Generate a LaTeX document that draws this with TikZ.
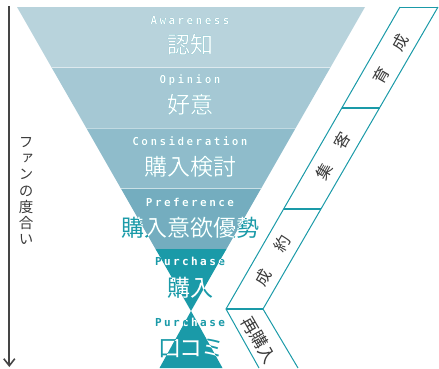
\documentclass[tikz,border=0pt]{standalone}
\usepackage{fontspec}
\setmainfont{DejaVu Sans}
\newfontfamily\jp[RawFeature=+palt]{Noto Sans CJK JP}
\newfontfamily\jpv[RawFeature=+vert]{Noto Sans CJK JP}
\newfontfamily\en[LetterSpace=22]{DejaVu Sans Mono}
\usetikzlibrary{arrows.meta}
\definecolor{cA}{HTML}{B8D3DC}
\definecolor{cB}{HTML}{A5C8D4}
\definecolor{cC}{HTML}{8FBCCB}
\definecolor{cD}{HTML}{74ADBF}
\definecolor{tealc}{HTML}{1A9AA8}
\definecolor{inkc}{HTML}{3A3A3A}
\definecolor{axisc}{HTML}{454545}
\tikzset{
  sepline/.style={draw=white, draw opacity=0.45, line width=0.8pt},
  bandline/.style={draw=tealc, line width=1pt, line join=miter},
  divline/.style={draw=tealc, line width=1.8pt},
  axisarrow/.style={draw=axisc, line width=1.8pt, -{Straight Barb[length=7pt,width=11pt,line width=1.6pt]}},
  enlab/.style={inner sep=0pt, font=\en\bfseries\fontsize{11}{12}\selectfont},
  jplab/.style={inner sep=0pt, font=\jp\fontsize{23}{24}\selectfont},
  seglab/.style={inner sep=0pt, text=inkc, font=\jp\fontsize{16}{17}\selectfont},
}
\newcommand\funnellabels[2]{%
  \node[enlab,text=#1] (#2en1) at (190,20.5) {Awareness};
  \node[jplab,text=#1] (#2jp1) at (190,45) {認知};
  \node[enlab,text=#1] (#2en2) at (190,80.5) {Opinion};
  \node[jplab,text=#1] (#2jp2) at (190,105) {好意};
  \node[enlab,text=#1] (#2en3) at (190,141.5) {Consideration};
  \node[jplab,text=#1] (#2jp3) at (190,167) {購入検討};
  \node[enlab,text=#1] (#2en4) at (190,202.5) {Preference};
  \node[jplab,text=#1] (#2jp4) at (190,228) {購入意欲優勢};
  \node[enlab,text=#1] (#2en5) at (190,261.5) {Purchase};
  \node[jplab,text=#1] (#2jp5) at (190,288) {購入};
  \node[enlab,text=#1] (#2en6) at (190,322.5) {Purchase};
  \node[jplab,text=#1] (#2jp6) at (190,348) {口コミ};
}
\begin{document}
\begin{tikzpicture}[x=1pt,y=-1pt]
\useasboundingbox (0,0) rectangle (439,368);
% funnel bands
\fill[cA] (17,7) -- (365,7) -- (330.4,67.5) -- (51.6,67.5) -- cycle;
\fill[cB] (51.6,67.5) -- (330.4,67.5) -- (295.7,128) -- (86.3,128) -- cycle;
\fill[cC] (86.3,128) -- (295.7,128) -- (261.1,188.5) -- (120.9,188.5) -- cycle;
\fill[cD] (120.9,188.5) -- (261.1,188.5) -- (226.5,249) -- (155.5,249) -- cycle;
\fill[tealc] (155.5,249) -- (226.5,249) -- (191,311) -- cycle;
\fill[tealc] (191,311) -- (222.5,368) -- (159.5,368) -- cycle;
\draw[sepline] (51.6,67.5) -- (330.4,67.5);
\draw[sepline] (86.3,128) -- (295.7,128);
\draw[sepline] (120.9,188.5) -- (261.1,188.5);
% labels: teal outside the funnel, white inside
\funnellabels{tealc}{t}
\begin{scope}
  \clip (17,7) -- (365,7) -- (191,311) -- cycle
        (191,311) -- (222.5,368) -- (159.5,368) -- cycle;
  \funnellabels{white}{w}
\end{scope}
% right stage band
\draw[bandline] (400,7) -- (226,309) -- (259,368);
\draw[bandline] (438,7) -- (263,309) -- (298,368);
\draw[bandline] (400,7) -- (438,7);
\draw[divline] (341.8,108) -- (379.5,108);
\draw[divline] (283.6,209) -- (320.9,209);
\draw[divline] (226,309) -- (263,309);
\node[seglab,rotate=60] (s1a) at (381.5,75.5) {育};
\node[seglab,rotate=60] (s1b) at (400.5,42.5) {成};
\node[seglab,rotate=60] (s2a) at (324,172) {集};
\node[seglab,rotate=60] (s2b) at (342,141) {客};
\node[seglab,rotate=60] (s3a) at (263.5,278) {成};
\node[seglab,rotate=60] (s3b) at (282.5,244) {約};
\node[seglab,rotate=-60,font=\jp\fontsize{17}{18}\selectfont] (s4) at (259,340) {再購入};
% axis
\coordinate (axtop) at (9.3,6);
\coordinate (axbot) at (9.3,367);
\draw[axisarrow] (axtop) -- (axbot);
\node[inner sep=0pt, text=inkc, align=center, font=\jpv\fontsize{14.5}{16.2}\selectfont] (axlab) at (26,191) {フ\\ァ\\ン\\の\\度\\合\\い};
\end{tikzpicture}
\end{document}
